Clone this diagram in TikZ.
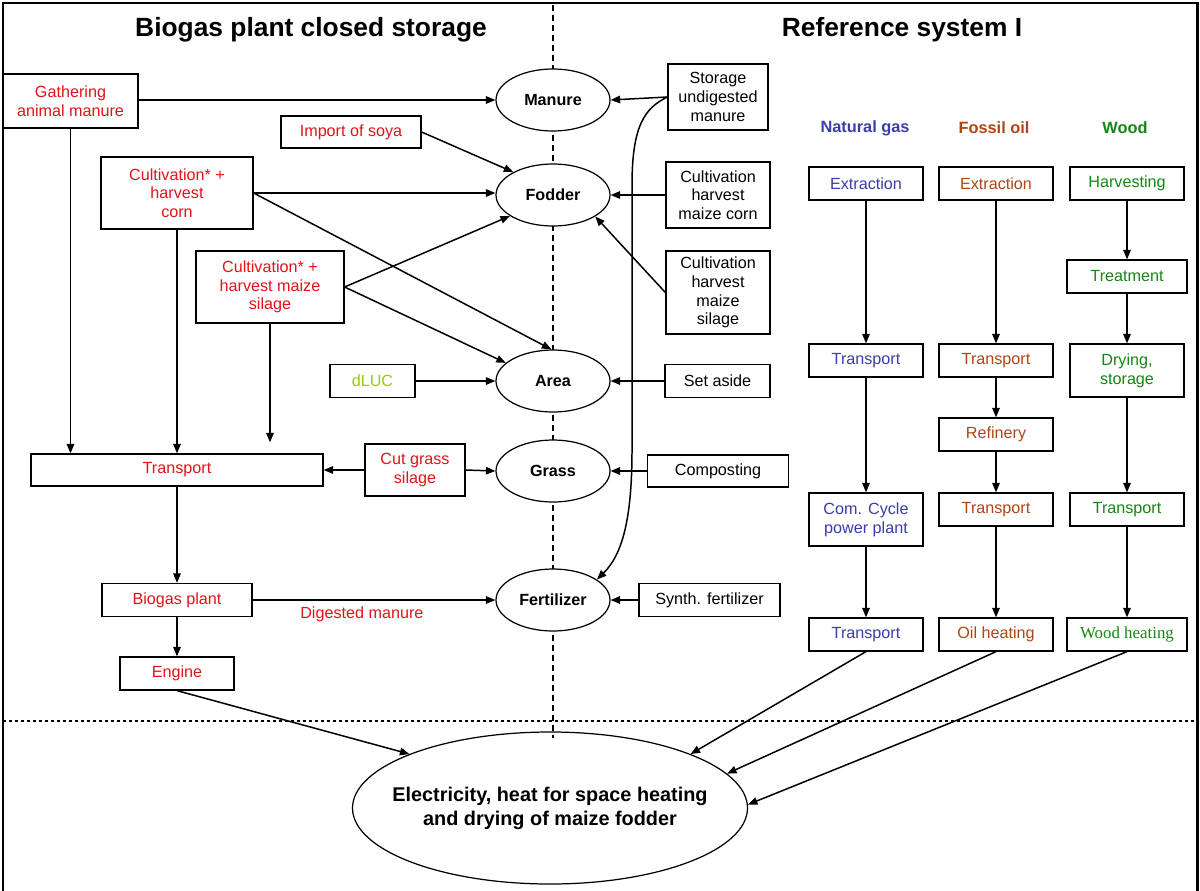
\documentclass[tikz,border=0pt]{standalone}
\usepackage{fontspec}
\setmainfont{Liberation Sans}
\newfontfamily\serifw{Liberation Serif}
\usetikzlibrary{arrows.meta,shapes.geometric}
\definecolor{cred}{RGB}{225,20,25}
\definecolor{cblue}{RGB}{60,60,170}
\definecolor{cbrown}{RGB}{175,70,20}
\definecolor{cgreen}{RGB}{20,135,20}
\definecolor{clime}{RGB}{150,205,0}
\tikzset{
  box/.style={draw,line width=0.7pt,fill=white,inner sep=0pt,align=center,font=\fontsize{9.2}{10.6}\selectfont},
  sz/.style 2 args={minimum width=#1*0.2mm,minimum height=#2*0.2mm},
  ell/.style={ellipse,draw,line width=0.7pt,fill=white,inner sep=0pt,minimum width=22.8mm,minimum height=12.4mm,font=\fontsize{9.2}{11}\selectfont\bfseries},
  arr/.style={-{Triangle[length=1.9mm,width=1.5mm]},line width=0.85pt},
  title/.style={font=\fontsize{15}{18}\selectfont\bfseries,inner sep=0pt},
  head/.style={font=\fontsize{9.3}{11}\selectfont\bfseries,inner sep=0pt}
}
\begin{document}
\begin{tikzpicture}[x=0.2mm,y=-0.2mm]
\useasboundingbox (0,0) rectangle (1200,890);
% frame and separators
\draw[line width=1.7pt] (3,895) -- (3,3) -- (1197,3) -- (1197,895);
\draw[line width=0.6pt,dash pattern=on 1.1mm off 0.9mm] (553,5) -- (553,738);
\draw[line width=0.6pt,dash pattern=on 0.6mm off 0.6mm] (3,721) -- (1197,721);
% titles
\node[title] (t1) at (311,30) {Biogas plant closed storage};
\node[title] (t2) at (902,30) {Reference system I};
% left side boxes
\node[box,sz={135}{54},text=cred] (gath) at (70.5,101) {Gathering\\animal manure};
\node[box,sz={140}{32},text=cred] (soya) at (351,132) {Import of soya};
\node[box,sz={152}{72},text=cred] (corn) at (177,193) {Cultivation* +\\harvest\\corn};
\node[box,sz={148}{72},text=cred] (silage) at (270,287) {Cultivation* +\\harvest maize\\silage};
\node[box,sz={85}{33},text=clime] (dluc) at (372.5,381) {dLUC};
\node[box,sz={292}{32},text=cred] (trans) at (177,470) {Transport};
\node[box,sz={100}{52},text=cred] (cut) at (415,470) {Cut grass\\silage};
\node[box,sz={150}{33},text=cred] (biogas) at (177,600) {Biogas plant};
\node[box,sz={114}{33},text=cred] (engine) at (177,673.5) {Engine};
% ellipses
\node[ell] (manure) at (553,100) {Manure};
\node[ell] (fodder) at (553,195) {Fodder};
\node[ell] (area) at (553,381) {Area};
\node[ell] (grass) at (553,471) {Grass};
\node[ell] (fertil) at (553,600) {Fertilizer};
% right of ellipses
\node[box,sz={100}{66}] (storage) at (718,97) {Storage\\undigested\\manure};
\node[box,sz={104}{66}] (cmc) at (718,195) {Cultivation\\harvest\\maize corn};
\node[box,sz={104}{83}] (cms) at (718,292.5) {Cultivation\\harvest\\maize\\silage};
\node[box,sz={105}{33}] (setaside) at (717.5,381) {Set aside};
\node[box,sz={141}{32}] (compost) at (718,471) {Composting};
\node[box,sz={141}{33}] (synth) at (709.5,600) {Synth. fertilizer};
% reference system
\node[head,text=cblue] (hng) at (865,128) {Natural gas};
\node[head,text=cbrown] (hoil) at (994,128) {Fossil oil};
\node[head,text=cgreen] (hwood) at (1125,128) {Wood};
\node[box,sz={114}{33},text=cblue] (ng1) at (866,183.5) {Extraction};
\node[box,sz={114}{33},text=cblue] (ng2) at (866,360.5) {Transport};
\node[box,sz={114}{53},text=cblue] (ng3) at (866,519.5) {Com. Cycle\\power plant};
\node[box,sz={114}{33},text=cblue] (ng4) at (866,634.5) {Transport};
\node[box,sz={114}{33},text=cbrown] (oil1) at (996,183.5) {Extraction};
\node[box,sz={114}{33},text=cbrown] (oil2) at (996,360.5) {Transport};
\node[box,sz={114}{33},text=cbrown] (oil3) at (996,434.5) {Refinery};
\node[box,sz={114}{33},text=cbrown] (oil4) at (996,509.5) {Transport};
\node[box,sz={114}{33},text=cbrown] (oil5) at (996,634.5) {Oil heating};
\node[box,sz={114}{33},text=cgreen] (w1) at (1127,183.5) {Harvesting};
\node[box,sz={120}{33},text=cgreen] (w2) at (1127,276.5) {Treatment};
\node[box,sz={114}{53},text=cgreen] (w3) at (1127,370.5) {Drying,\\storage};
\node[box,sz={114}{33},text=cgreen] (w4) at (1127,509.5) {Transport};
\node[box,sz={120}{33},text=cgreen,font=\serifw\fontsize{9.6}{11}\selectfont] (w5) at (1127,634.5) {Wood heating};
% big ellipse
\node[ellipse,draw,line width=0.7pt,inner xsep=-25mm,inner ysep=-6mm,minimum width=79mm,minimum height=30.4mm,align=center,font=\fontsize{11.3}{13.6}\selectfont\bfseries] (big) at (550,808) {Electricity, heat for space heating\\and drying of maize fodder};
% connectors left
\draw[arr] (gath.east |- manure.west) -- (manure.west);
\draw[arr] (gath.south) -- (gath.south |- trans.north);
\draw[arr] (corn.south) -- (corn.south |- trans.north);
\draw[arr,shorten >=2.2mm] (silage.south) -- (silage.south |- trans.north);
\draw[arr] (soya.east) -- (fodder.150);
\draw[arr] (corn.east) -- (corn.east -| fodder.west);
\draw[arr] (corn.east) -- (area.93);
\draw[arr] (silage.east) -- (fodder.206);
\draw[arr] (silage.east) -- (area.159);
\draw[arr] (dluc.east) -- (area.west);
\draw[arr] (cut.west) -- (trans.east);
\draw[arr] (cut.east) -- (grass.west);
\draw[arr] (trans.south) -- (biogas.north);
\draw[arr] (biogas.east) -- node[pos=0.45,below=1.2mm,text=cred,font=\fontsize{9.2}{11}\selectfont,inner sep=0pt] (dig) {Digested manure} (fertil.west);
\draw[arr] (biogas.south) -- (engine.north);
\draw[arr] (engine.south) -- (big.159);
% connectors right of ellipses
\draw[arr] (storage.west) -- (manure.east);
\draw[arr] (storage.west) .. controls (645,108) and (632,125) .. (632,185) -- (632,450) .. controls (632,520) and (622,555) .. (fertil.25);
\draw[arr] (cmc.west) -- (cmc.west -| fodder.east);
\draw[arr] (cms.west) -- (fodder.-27);
\draw[arr] (setaside.west) -- (area.east);
\draw[arr] (compost.west) -- (grass.east);
\draw[arr] (synth.west) -- (fertil.east);
% reference chains
\draw[arr] (ng1.south) -- (ng2.north);
\draw[arr] (ng2.south) -- (ng3.north);
\draw[arr] (ng3.south) -- (ng4.north);
\draw[arr] (oil1.south) -- (oil2.north);
\draw[arr] (oil2.south) -- (oil3.north);
\draw[arr] (oil3.south) -- (oil4.north);
\draw[arr] (oil4.south) -- (oil5.north);
\draw[arr] (w1.south) -- (w2.north);
\draw[arr] (w2.south) -- (w3.north);
\draw[arr] (w3.south) -- (w4.north);
\draw[arr] (w4.south) -- (w5.north);
\draw[arr] (ng4.south) -- (big.21);
\draw[arr] (oil5.south) -- (big.11);
\draw[arr] (w5.south) -- (big.1);
\end{tikzpicture}
\end{document}
